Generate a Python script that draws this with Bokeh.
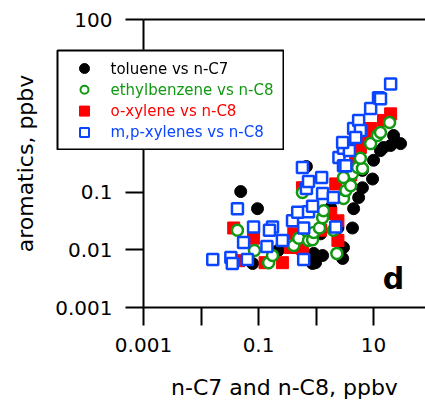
from bokeh.plotting import figure
from bokeh.models import LogAxis, FixedTicker, Label, ColumnDataSource
from bokeh.core.properties import value
from bokeh.embed import file_html
from bokeh.resources import INLINE

FONT = "DejaVu Sans"

# ---- data ----
tol_x = [0.049, 0.096, 0.68, 0.91, 0.98, 1.3, 4.3, 4.5, 5.5, 6.4, 9.6, 10, 2.9, 3.0,
         14.9, 19.8, 22.3, 29.5, 6.4, 0.22, 0.079, 2.4, 1.8, 1.2, 0.87, 13.2]
tol_y = [0.103, 0.052, 0.28, 0.0087, 0.006, 0.008, 0.024, 0.052, 0.081, 0.12, 0.17, 0.36, 0.0071, 0.011,
         0.60, 0.65, 0.97, 0.70, 0.24, 0.0098, 0.0058, 0.024, 0.054, 0.019, 0.0058, 0.53]

eb_x = [0.043, 0.085, 0.15, 0.175, 0.41, 0.50, 0.58, 0.74, 0.87, 0.91, 1.15, 1.3, 1.35, 2.0,
        2.3, 3.0, 3.3, 4.0, 4.3, 3.0, 5.3, 6.4, 5.9, 8.9, 11.7, 13.2, 19]
eb_y = [0.022, 0.0098, 0.006, 0.008, 0.0119, 0.016, 0.099, 0.0146, 0.015, 0.020, 0.024, 0.036, 0.048, 0.022,
        0.0087, 0.078, 0.107, 0.13, 0.21, 0.18, 0.27, 0.26, 0.39, 0.70, 0.97, 1.09, 1.63]

oxy_x = [0.037, 0.082, 0.045, 0.13, 0.26, 0.58, 2.4, 2.4, 2.2, 4.9, 19.8, 14.9, 7.3, 5.9,
         0.58, 0.36, 1.2, 1.8, 4.0, 8.9, 0.41]
oxy_y = [0.024, 0.016, 0.0065, 0.006, 0.006, 0.12, 0.0146, 0.032, 0.14, 0.36, 2.3, 1.77, 0.97, 0.60,
         0.0106, 0.011, 0.022, 0.043, 0.20, 1.28, 0.019]

mp_x = [0.016, 0.033, 0.035, 0.064, 0.043, 0.082, 0.055, 0.14, 0.175, 0.155, 0.26, 0.39, 0.48,
        0.58, 0.61, 0.61, 0.68, 0.74, 0.87, 1.25, 1.3, 2.0, 2.2, 2.5, 3.0, 3.8, 3.0, 4.5, 5.5,
        5.9, 8.9, 12.2, 13.2, 19.8, 2.9, 3.3, 4.9, 0.74]
mp_y = [0.0068, 0.0074, 0.0058, 0.0068, 0.052, 0.025, 0.0134, 0.0115, 0.025, 0.022, 0.0146, 0.032, 0.045,
        0.27, 0.024, 0.0068, 0.116, 0.046, 0.057, 0.18, 0.095, 0.081, 0.025, 0.40, 0.58, 0.53, 0.29, 1.28, 1.77,
        1.18, 2.85, 4.4, 4.2, 7.6, 0.73, 0.29, 0.89, 0.154]

series_labels = ["toluene vs n-C7", "ethylbenzene vs n-C8", "o-xylene vs n-C8", "m,p-xylenes vs n-C8"]
series_colors = ["#000000", "#119911", "#ff0000", "#0a45ff"]

x_ticks = [0.001, 0.01, 0.1, 1, 10, 100]
x_tick_labels = ["0.001", "", "0.1", "", "10", ""]
y_ticks = [0.001, 0.01, 0.1, 1, 10, 100]
y_tick_labels = ["0.001", "0.01", "0.1", "1", "10", "100"]

x_label = "n-C7 and n-C8, ppbv"
y_label = "aromatics, ppbv"
panel_letter = "d"

fig = figure(frame_width=282, frame_height=288, x_axis_type="log", y_axis_type="log",
             x_range=(0.001, 80), y_range=(0.001, 100),
             min_border_left=143, min_border_right=0, min_border_top=19, min_border_bottom=96,
             output_backend="svg", toolbar_location=None)
fig.grid.visible = False
fig.outline_line_color = None
fig.background_fill_color = "white"
fig.border_fill_color = "white"

for ax, ticks, labels in ((fig.xaxis[0], x_ticks, x_tick_labels), (fig.yaxis[0], y_ticks, y_tick_labels)):
    ax.ticker = FixedTicker(ticks=ticks, minor_ticks=[])
    ax.major_label_overrides = {t: l for t, l in zip(ticks, labels)}
    ax.axis_line_width = 2
    ax.major_tick_line_width = 2
    ax.major_tick_out = 18
    ax.major_tick_in = 0
    ax.minor_tick_line_color = None
    ax.major_label_text_font = FONT
    ax.major_label_text_font_size = "20px"
    ax.major_label_text_color = "black"
    ax.axis_label_text_font = FONT
    ax.axis_label_text_font_size = "22px"
    ax.axis_label_text_font_style = "normal"
    ax.axis_label_text_color = "black"

fig.xaxis.axis_label = x_label
fig.yaxis.axis_label = y_label
fig.xaxis.major_label_standoff = 12
fig.xaxis.axis_label_standoff = 20
fig.yaxis.major_label_standoff = 13
fig.yaxis.axis_label_standoff = 14

top = LogAxis(ticker=FixedTicker(ticks=[]), axis_line_width=2, major_label_text_font_size="0px",
              major_tick_line_color=None, minor_tick_line_color=None)
fig.add_layout(top, "above")

fig.scatter(tol_x, tol_y, marker="circle", size=12, fill_color=series_colors[0], line_color=series_colors[0])
fig.scatter(oxy_x, oxy_y, marker="square", size=12, fill_color=series_colors[2], line_color=series_colors[2])
fig.scatter(eb_x, eb_y, marker="circle", size=11, fill_color="white", line_color=series_colors[1], line_width=2.5)
fig.scatter(mp_x, mp_y, marker="square", size=11, fill_color="white", line_color=series_colors[3], line_width=2.5)

fig.add_layout(Label(x=22.3, y=0.0032, text=panel_letter, text_font=FONT, text_font_size="30px",
                     text_font_style="bold", text_align="center", text_baseline="alphabetic", text_color="black"))

# ---- legend box: a small figure laid over the main one (it covers the y axis, as in the original) ----
LEG_W, LEG_H = 226, 99
leg = figure(width=LEG_W + 2, height=LEG_H + 2, x_range=(0, LEG_W), y_range=(LEG_H, 0), min_border=1,
             x_axis_location=None, y_axis_location=None, output_backend="svg", toolbar_location=None,
             styles={"position": "fixed", "left": "56px", "top": "49px", "z-index": "10"})
leg.grid.visible = False
leg.outline_line_color = "black"
leg.outline_line_width = 2
leg.background_fill_color = "white"
leg.border_fill_color = "white"

row_first, row_step, glyph_x, text_x = 18, 21.3, 27, 53
leg_src = ColumnDataSource(dict(
    y=[row_first + i * row_step for i in range(len(series_labels))],
    label=series_labels,
    color=series_colors,
    marker=["circle", "circle", "square", "square"],
    fill=[series_colors[0], "white", series_colors[2], "white"],
    lw=[1, 2, 1, 2],
    size=[10, 8, 10, 9],
))
leg.scatter(x=glyph_x, y="y", marker="marker", size="size", fill_color="fill", line_color="color",
            line_width="lw", source=leg_src)
leg.text(x=text_x, y="y", text="label", text_color="color", text_font=value(FONT), text_font_size="15px",
         text_baseline="middle", text_align="left", source=leg_src)

p = [fig, leg]

open("out.html", "w").write(file_html(p, INLINE))
